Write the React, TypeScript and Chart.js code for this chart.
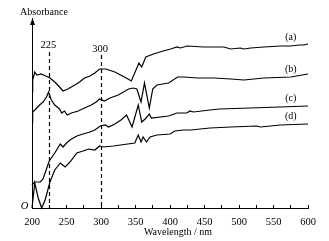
import React, { useEffect, useRef } from "react";
import { Chart, registerables } from "chart.js";

Chart.register(...registerables);

// Wavelength (nm) and absorbance (arbitrary units)
const wlA = [200, 201, 204, 207, 213, 220, 226, 233, 240, 245, 252, 262, 269, 276, 284, 291, 298, 307, 320, 334, 344, 355, 359, 365, 376, 390, 401, 410, 415, 425, 449, 478, 488, 502, 507, 517, 536, 560, 575, 587, 594, 600];
const absA = [1.16, 1.28, 1.36, 1.33, 1.34, 1.32, 1.30, 1.26, 1.21, 1.17, 1.19, 1.23, 1.26, 1.30, 1.32, 1.35, 1.39, 1.39, 1.36, 1.31, 1.27, 1.45, 1.41, 1.51, 1.54, 1.57, 1.59, 1.61, 1.60, 1.62, 1.61, 1.61, 1.59, 1.60, 1.59, 1.60, 1.61, 1.62, 1.62, 1.63, 1.63, 1.64];

const wlB = [200, 201, 204, 211, 216, 221, 224, 228, 233, 240, 243, 247, 251, 257, 267, 276, 286, 293, 298, 305, 313, 325, 340, 347, 352, 358, 363, 370, 375, 381, 398, 411, 420, 440, 464, 488, 507, 536, 575, 600];
const absB = [0.86, 0.96, 0.98, 1.03, 1.06, 1.11, 1.16, 1.08, 1.03, 0.99, 0.95, 0.97, 0.93, 0.95, 0.97, 1.00, 1.03, 1.06, 1.09, 1.07, 1.10, 1.13, 1.19, 1.20, 1.19, 1.06, 1.25, 1.00, 1.19, 1.23, 1.25, 1.31, 1.31, 1.30, 1.30, 1.29, 1.28, 1.30, 1.31, 1.34];

const wlC = [200, 204, 212, 216, 225, 233, 241, 245, 250, 255, 265, 274, 284, 291, 299, 306, 311, 320, 329, 337, 345, 354, 359, 364, 370, 373, 398, 410, 424, 429, 434, 458, 472, 516, 559, 600];
const absC = [0.23, 0.26, 0.26, 0.29, 0.47, 0.55, 0.64, 0.61, 0.65, 0.68, 0.72, 0.74, 0.76, 0.78, 0.82, 0.83, 0.81, 0.84, 0.88, 0.93, 0.81, 1.03, 0.86, 0.89, 0.94, 0.90, 0.92, 0.95, 0.95, 0.97, 0.96, 0.98, 0.99, 1.00, 1.01, 1.02];

const wlD = [200, 204, 209, 214, 219, 226, 233, 241, 248, 255, 265, 274, 282, 291, 298, 303, 318, 349, 354, 358, 361, 366, 371, 381, 400, 407, 419, 430, 458, 488, 526, 531, 560, 600];
const absD = [0.00, 0.25, 0.10, 0.00, 0.08, 0.26, 0.38, 0.45, 0.41, 0.46, 0.55, 0.57, 0.59, 0.58, 0.62, 0.61, 0.62, 0.65, 0.73, 0.66, 0.71, 0.66, 0.71, 0.73, 0.74, 0.77, 0.78, 0.78, 0.80, 0.81, 0.82, 0.81, 0.83, 0.84];

const seriesLabels = ["(a)", "(b)", "(c)", "(d)"];
const seriesLabelY = [1.71, 1.39, 1.10, 0.92];
const seriesLabelX = 575;

const markerWavelengths = [225, 300];
const markerTop = [1.56, 1.53];
const markerLabelY = [1.63, 1.59];

const xTickMin = 200;
const xTickMax = 600;
const xTickStep = 25;
const xLabelStep = 50;
const yMax = 1.9;

const xTitle = "Wavelength / nm";
const yTitle = "Absorbance";
const originLabel = "O";

const SERIF = "'Liberation Serif', 'DejaVu Serif', serif";

function toPoints(xs: number[], ys: number[]) {
  return xs.map((x, i) => ({ x, y: ys[i] }));
}

export default function App() {
  const ref = useRef<HTMLCanvasElement | null>(null);

  useEffect(() => {
    if (!ref.current) return;

    const annot = {
      id: "annot",
      afterDraw(chart: any) {
        const { ctx, scales, chartArea } = chart;
        const xs = scales.x;
        const ys = scales.y;
        ctx.save();
        ctx.fillStyle = "#000";
        ctx.strokeStyle = "#000";
        // dashed marker lines
        ctx.lineWidth = 1.2;
        ctx.setLineDash([4, 3]);
        markerWavelengths.forEach((w, i) => {
          const px = Math.round(xs.getPixelForValue(w)) + 0.5;
          ctx.beginPath();
          ctx.moveTo(px, ys.getPixelForValue(markerTop[i]));
          ctx.lineTo(px, chartArea.bottom);
          ctx.stroke();
        });
        ctx.setLineDash([]);
        ctx.font = `10.5px ${SERIF}`;
        ctx.textAlign = "center";
        ctx.textBaseline = "middle";
        markerWavelengths.forEach((w, i) => {
          ctx.fillText(String(w), xs.getPixelForValue(w) - 1, ys.getPixelForValue(markerLabelY[i]));
        });
        // series labels
        ctx.font = `10px ${SERIF}`;
        seriesLabels.forEach((s, i) => {
          ctx.fillText(s, xs.getPixelForValue(seriesLabelX), ys.getPixelForValue(seriesLabelY[i]));
        });
        // y axis arrow
        const ax = chartArea.left + 0.5;
        const top = chartArea.top;
        ctx.beginPath();
        ctx.moveTo(ax, top);
        ctx.lineTo(ax - 2.5, top + 7);
        ctx.lineTo(ax + 2.5, top + 7);
        ctx.closePath();
        ctx.fill();
        // y title
        ctx.font = `10px ${SERIF}`;
        ctx.fillText(yTitle, chartArea.left + 12, top - 6);
        // x title
        ctx.fillText(xTitle, (chartArea.left + chartArea.right) / 2 + 8, chartArea.bottom + 24);
        // origin
        ctx.font = `italic 10.5px ${SERIF}`;
        ctx.fillText(originLabel, chartArea.left - 7.5, chartArea.bottom - 1.5);
        ctx.restore();
      },
    };

    const mk = (xs: number[], ys: number[], label: string) => ({
      label,
      data: toPoints(xs, ys),
      borderColor: "#000",
      borderWidth: 1.2,
      pointRadius: 0,
      tension: 0,
      fill: false,
    });

    const chart = new Chart(ref.current, {
      type: "line",
      data: {
        datasets: [
          mk(wlA, absA, seriesLabels[0]),
          mk(wlB, absB, seriesLabels[1]),
          mk(wlC, absC, seriesLabels[2]),
          mk(wlD, absD, seriesLabels[3]),
        ],
      },
      options: {
        animation: false,
        responsive: false,
        devicePixelRatio: 1,
        clip: false as any,
        layout: { padding: { left: 32, right: 21, top: 18, bottom: 0 } },
        plugins: {
          legend: { display: false },
          tooltip: { enabled: false },
        },
        scales: {
          x: {
            type: "linear",
            min: xTickMin,
            max: xTickMax,
            afterFit: (s: any) => {
              s.height = 33;
            },
            ticks: {
              stepSize: xTickStep,
              autoSkip: false,
              maxRotation: 0,
              color: "#000",
              padding: 11,
              font: { family: SERIF, size: 10.5 },
              callback: (v: any) => (Number(v) % xLabelStep === 0 ? String(v) : ""),
            },
            grid: {
              display: true,
              drawOnChartArea: false,
              drawTicks: true,
              tickLength: -3,
              color: "#000",
              lineWidth: 1,
            },
            border: { display: true, color: "#000", width: 1 },
          },
          y: {
            type: "linear",
            min: 0,
            max: yMax,
            afterFit: (s: any) => {
              s.width = 0;
            },
            ticks: { display: false },
            grid: { display: false, drawTicks: false },
            border: { display: true, color: "#000", width: 1 },
          },
        },
      },
      plugins: [annot],
    } as any);

    return () => chart.destroy();
  }, []);

  return (
    <div style={{ position: "fixed", left: 0, top: 0, width: 329, height: 241, background: "#fff" }}>
      <canvas ref={ref} width={329} height={241} style={{ display: "block" }} />
    </div>
  );
}
